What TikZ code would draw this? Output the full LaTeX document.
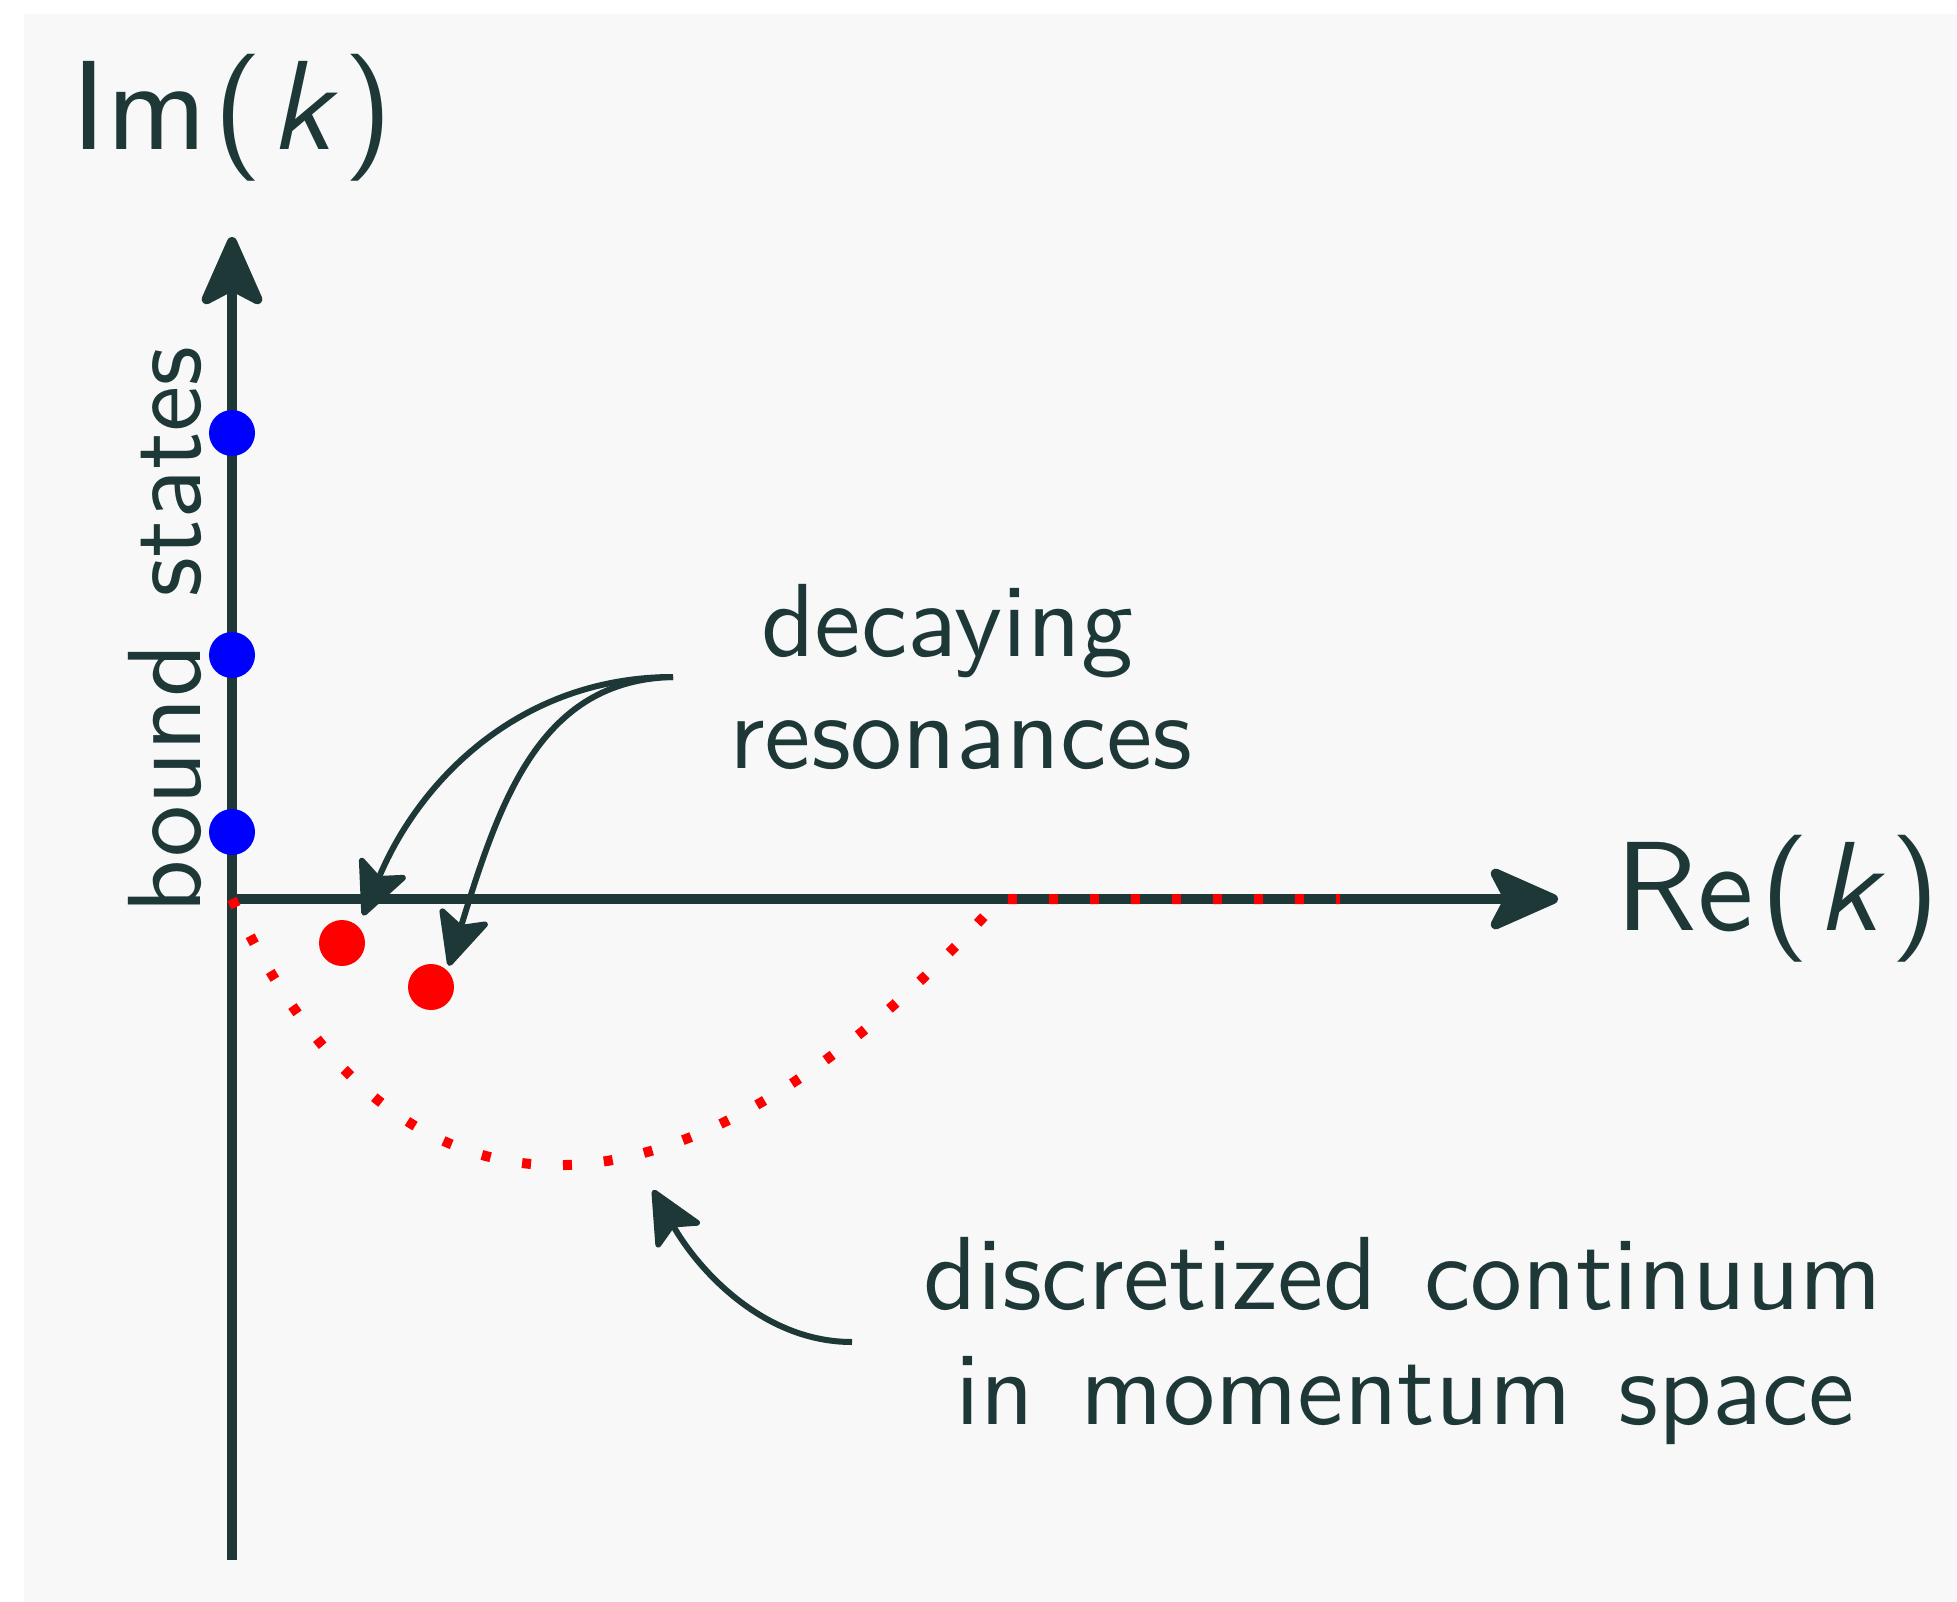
\documentclass[tikz,border=0pt]{standalone}
\usepackage{fontspec}
\usetikzlibrary{arrows.meta}
\newfontfamily\lmsten[Extension=.otf, UprightFont=lmsans10-regular, ItalicFont=lmsans10-oblique, SlantedFont=lmsans10-oblique, BoldFont=lmsans10-bold]{lmsans10}
\definecolor{ink}{HTML}{1E3838}
\definecolor{bgc}{RGB}{248,248,248}
\begin{document}
\begin{tikzpicture}[x=1pt,y=-1pt,
  axis/.style={ink, line width=10pt, -{Stealth[length=80pt,width=70pt,inset=18pt,round]}},
  carrow/.style={ink, line width=6pt, -{Stealth[length=60pt,width=56pt,inset=13pt,round]}},
  big/.style={ink, inner sep=0pt, font={\lmsten\fontsize{127}{150}\selectfont}},
  lbl/.style={ink, inner sep=0pt, font={\lmsten\fontsize{104}{126}\selectfont\spaceskip=0.45em\relax}},
  bdot/.style={circle, fill=blue, inner sep=0pt, minimum size=46pt},
  rdot/.style={circle, fill=red, inner sep=0pt, minimum size=46pt},
  cont/.style={red, line width=10pt, dash pattern=on 9pt off 32pt}]
\useasboundingbox (0,0) rectangle (1957,1602);
\fill[bgc] (24,14) rectangle (1957,1602);
% axes
\coordinate (O) at (232,899);
\coordinate (ybot) at (232,1560);
\coordinate (ytop) at (232,237);
\coordinate (xend) at (1558,899);
\draw[axis] (ybot) -- (ytop);
\draw[axis] (O) -- (xend);
% axis labels
\node[big, anchor=base] (im) at (232,150) {Im\kern6pt(\kern7pt\textsl{k}\kern5pt)};
\node[big, anchor=base] (re) at (1778,930) {Re\kern6pt(\kern7pt\textsl{k}\kern5pt)};
\node[lbl, rotate=90, anchor=base] (bs) at (200,630) {bound states};
% bound states
\node[bdot] (b1) at (232,433) {};
\node[bdot] (b2) at (232,655) {};
\node[bdot] (b3) at (232,832) {};
% discretized continuum
\coordinate (cend) at (1000,899);
\coordinate (aend) at (1340,899);
\draw[cont] (O) .. controls (413,1288) and (713,1218) .. (cend) -- (aend);
% resonances
\node[rdot] (r1) at (342,943) {};
\node[rdot] (r2) at (431,987) {};
% labels
\node[lbl, anchor=base] (decay) at (947,656) {decaying};
\node[lbl, anchor=base] (reson) at (961,768) {resonances};
\node[lbl, anchor=base] (disc) at (1403,1309) {discretized continuum};
\node[lbl, anchor=base] (mom) at (1405,1424) {in momentum space};
% arrows
\coordinate (rstart) at (673,677);
\draw[carrow, shorten >=12pt] (rstart) .. controls (523,677) and (421,777) .. (r1.north east);
\draw[carrow, shorten >=5pt] (rstart) .. controls (540,680) and (500,800) .. (r2.45);
\coordinate (cstart) at (852,1342);
\coordinate (ctip) at (653,1190);
\draw[carrow] (cstart) .. controls (762,1342) and (697,1268) .. (ctip);
\end{tikzpicture}
\end{document}
